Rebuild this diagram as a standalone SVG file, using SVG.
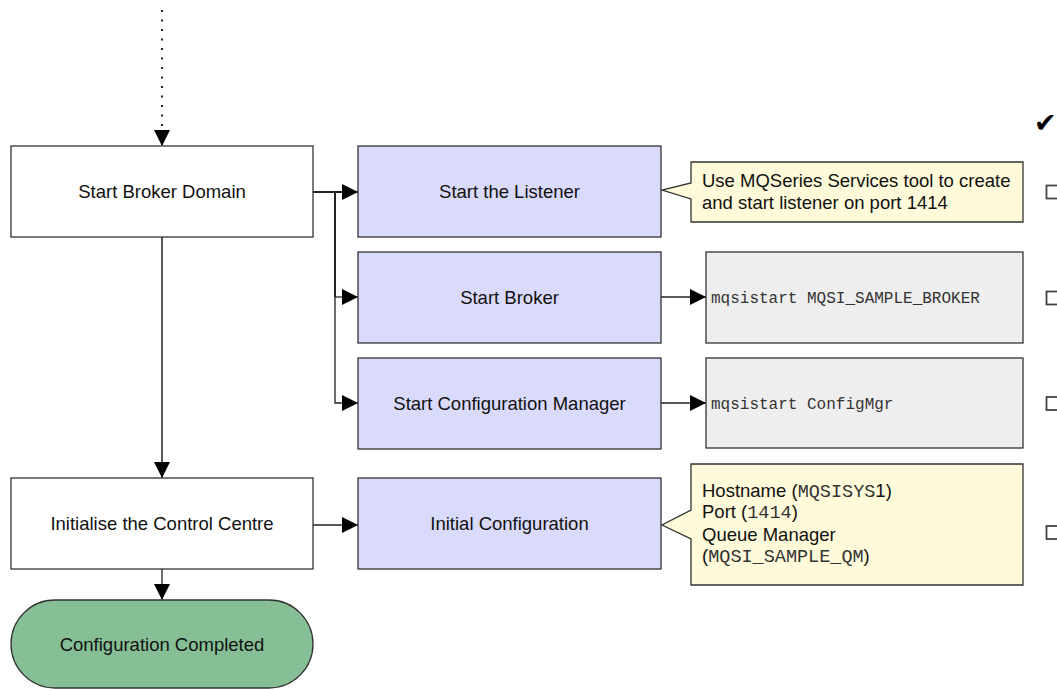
<svg xmlns="http://www.w3.org/2000/svg" width="1057" height="689" viewBox="0 0 1057 689">
<defs>
<marker id="arr" markerUnits="userSpaceOnUse" markerWidth="17" markerHeight="17" refX="16" refY="8" orient="auto">
<path d="M0,0 L16,8 L0,16 Z" fill="#000"/>
</marker>
</defs>
<style>
.box{stroke:#333;stroke-width:1.3}
.w{fill:#fff}
.lav{fill:#dadafc}
.grey{fill:#eeeeee}
.yel{fill:#fffad9}
.grn{fill:#86bf96}
.t{font-family:"Liberation Sans",Arial,sans-serif;font-size:18.5px;fill:#111}
.c{text-anchor:middle}
.m{font-family:"Courier New","Liberation Mono",monospace}
.con{fill:none;stroke:#222}
.chk{fill:#fff;stroke:#444;stroke-width:1.8}
</style>
<rect width="1057" height="689" fill="#fff"/>
<g id="connectors">
<path class="con" d="M162,10 V146" stroke-width="2" stroke-dasharray="2 7.5" marker-end="url(#arr)"/>
<path class="con" d="M313,192 H358" stroke-width="2" marker-end="url(#arr)"/>
<path class="con" d="M335,192 V297" stroke-width="2"/>
<path class="con" d="M335,297 H358" stroke-width="1.3" marker-end="url(#arr)"/>
<path class="con" d="M335,297 V403 H358" stroke-width="1.3" marker-end="url(#arr)"/>
<path class="con" d="M162,237 V478" stroke-width="1.5" marker-end="url(#arr)"/>
<path class="con" d="M313,525 H358" stroke-width="1.3" marker-end="url(#arr)"/>
<path class="con" d="M162,569 V600" stroke-width="1.3" marker-end="url(#arr)"/>
<path class="con" d="M661,297 H706" stroke-width="1.3" marker-end="url(#arr)"/>
<path class="con" d="M661,403 H706" stroke-width="1.3" marker-end="url(#arr)"/>
</g>
<g id="start-broker-domain">
<rect class="box w" x="11" y="146" width="302" height="91"/>
<text class="t c" x="162" y="198">Start Broker Domain</text>
</g>
<g id="start-listener">
<rect class="box lav" x="358" y="146" width="303" height="91"/>
<text class="t c" x="509.5" y="198">Start the Listener</text>
</g>
<g id="start-broker">
<rect class="box lav" x="358" y="252" width="303" height="91"/>
<text class="t c" x="509.5" y="304">Start Broker</text>
</g>
<g id="start-config-mgr">
<rect class="box lav" x="358" y="358" width="303" height="91"/>
<text class="t c" x="509.5" y="410">Start Configuration Manager</text>
</g>
<g id="initialise-control-centre">
<rect class="box w" x="11" y="478" width="302" height="91"/>
<text class="t c" x="162" y="530">Initialise the Control Centre</text>
</g>
<g id="initial-configuration">
<rect class="box lav" x="358" y="478" width="303" height="91"/>
<text class="t c" x="509.5" y="530">Initial Configuration</text>
</g>
<g id="configuration-completed">
<rect class="box grn" x="11" y="600" width="302" height="88" rx="44"/>
<text class="t c" x="162" y="651">Configuration Completed</text>
</g>
<g id="listener-note">
<path class="box yel" d="M691,162 H1023 V222 H691 V199 L662,190 L691,183 Z"/>
<text class="t" x="702" y="187">Use MQSeries Services tool to create</text>
<text class="t" x="702" y="209">and start listener on port 1414</text>
</g>
<g id="broker-command">
<rect class="box grey" x="706" y="252" width="317" height="91"/>
<text class="t m" x="711" y="303" style="font-size:16px;fill:#333">mqsistart MQSI_SAMPLE_BROKER</text>
</g>
<g id="configmgr-command">
<rect class="box grey" x="706" y="358" width="317" height="90"/>
<text class="t m" x="711" y="409" style="font-size:16px;fill:#333">mqsistart ConfigMgr</text>
</g>
<g id="config-note">
<path class="box yel" d="M691,464 H1023 V585 H691 V539 L662,525 L691,510 Z"/>
<text class="t" x="702" y="497">Hostname (<tspan class="m" fill="#333">MQSISYS</tspan>1)</text>
<text class="t" x="702" y="518">Port (<tspan class="m" fill="#333">1414</tspan>)</text>
<text class="t" x="702" y="541">Queue Manager</text>
<text class="t" x="702" y="562">(<tspan class="m" fill="#333">MQSI_SAMPLE_QM</tspan>)</text>
</g>
<g id="checklist">
<text x="1034" y="132" style="font-family:'DejaVu Sans',sans-serif;font-size:27px;fill:#000">✔</text>
<rect class="chk" x="1046.5" y="185.5" width="15" height="13"/>
<rect class="chk" x="1046.5" y="291.5" width="15" height="13"/>
<rect class="chk" x="1046.5" y="397" width="15" height="13"/>
<rect class="chk" x="1046.5" y="526" width="15" height="13"/>
</g>
</svg>
